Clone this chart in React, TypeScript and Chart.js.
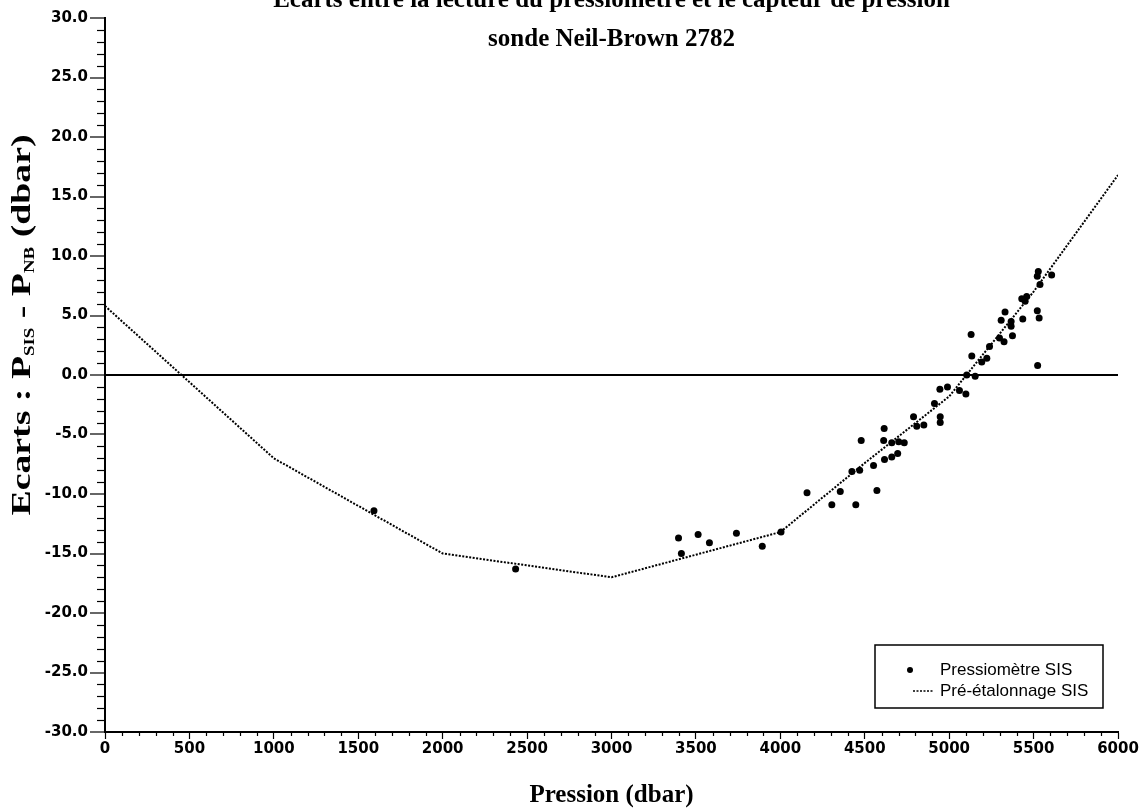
import React, { useEffect, useRef } from 'react';
import { Chart, registerables } from 'chart.js';

Chart.register(...registerables);

// ---- Data ----
const titleLine1 = 'Ecarts entre la lecture du pressiomètre et le capteur de pression';
const titleLine2 = 'sonde Neil-Brown 2782';
const xAxisTitle = 'Pression (dbar)';
const yTitleParts = ['Ecarts : P', 'SIS', ' - P', 'NB', ' (dbar)'];
const legendLabels = ['Pressiomètre SIS', 'Pré-étalonnage SIS'];

const xMin = 0;
const xMax = 6000;
const xStep = 500;
const yMin = -30;
const yMax = 30;
const yStep = 5;

// Pressiomètre SIS measurements
const sisPression = [
  1593, 2432, 3397, 3414, 3513, 3580, 3740, 3893, 4004, 4158,
  4305, 4355, 4447, 4572, 4424, 4470, 4552, 4617, 4660, 4695,
  4479, 4612, 4660, 4701, 4734, 4615, 4789, 4808, 4850, 4913,
  4947, 4947, 4945, 4990, 5061, 5099, 5104, 5154, 5134, 5130,
  5193, 5223, 5239, 5298, 5325, 5375, 5367, 5367, 5308, 5331,
  5436, 5430, 5459, 5450, 5522, 5533, 5538, 5522, 5528, 5607,
  5524,
];
const sisEcart = [
  -11.4, -16.3, -13.7, -15.0, -13.4, -14.1, -13.3, -14.4, -13.2, -9.9,
  -10.9, -9.8, -10.9, -9.7, -8.1, -8.0, -7.6, -7.1, -6.9, -6.6,
  -5.5, -5.5, -5.7, -5.6, -5.7, -4.5, -3.5, -4.3, -4.2, -2.4,
  -3.5, -4.0, -1.2, -1.0, -1.3, -1.6, 0.0, -0.1, 1.6, 3.4,
  1.1, 1.4, 2.4, 3.1, 2.8, 3.3, 4.1, 4.5, 4.6, 5.3,
  4.7, 6.4, 6.6, 6.2, 5.4, 4.8, 7.6, 8.3, 8.7, 8.4,
  0.8,
];

// Pré-étalonnage SIS curve
const preEtalPression = [0, 1000, 2000, 3000, 4000, 4500, 5000, 5500, 6000];
const preEtalEcart = [5.8, -7.0, -15.0, -17.0, -13.2, -7.4, -1.8, 7.0, 16.8];

const SERIF = '"Liberation Serif", "Times New Roman", serif';
const SANS = '"Liberation Sans", Arial, sans-serif';
const TICKFONT = '"DejaVu Sans", sans-serif';

const decorPlugin = {
  id: 'decor',
  afterDraw(chart: any) {
    const ctx = chart.ctx as CanvasRenderingContext2D;
    const xs = chart.scales.x;
    const ys = chart.scales.y;
    const area = chart.chartArea;
    ctx.save();
    ctx.strokeStyle = '#000';
    ctx.fillStyle = '#000';

    // minor ticks
    ctx.lineWidth = 1.2;
    for (let v = yMin; v <= yMax; v += 1) {
      if (v % yStep === 0) continue;
      const py = Math.round(ys.getPixelForValue(v)) + 0.5;
      ctx.beginPath();
      ctx.moveTo(area.left - 8, py);
      ctx.lineTo(area.left, py);
      ctx.stroke();
    }
    for (let v = xMin; v <= xMax; v += 100) {
      if (v % xStep === 0) continue;
      const px = Math.round(xs.getPixelForValue(v)) + 0.5;
      ctx.beginPath();
      ctx.moveTo(px, area.bottom);
      ctx.lineTo(px, area.bottom + 4);
      ctx.stroke();
    }

    // titles
    ctx.textAlign = 'center';
    ctx.textBaseline = 'alphabetic';
    ctx.font = `bold 25px ${SERIF}`;
    const cx = (area.left + area.right) / 2;
    ctx.fillText(titleLine1, cx, 7);
    ctx.fillText(titleLine2, cx, 46);
    ctx.fillText(xAxisTitle, cx, 802);

    // y axis title with subscripts (stretched along its length like the scan)
    const mainFont = `bold 28px ${SERIF}`;
    const subFont = `bold 14px ${SERIF}`;
    const widths = yTitleParts.map((t, i) => {
      ctx.font = i % 2 === 1 ? subFont : mainFont;
      return ctx.measureText(t).width;
    });
    const total = widths.reduce((a, b) => a + b, 0);
    ctx.save();
    ctx.translate(30, 325);
    ctx.rotate(-Math.PI / 2);
    ctx.scale(1.35, 1);
    ctx.textAlign = 'left';
    let pos = -total / 2;
    yTitleParts.forEach((t, i) => {
      const sub = i % 2 === 1;
      ctx.font = sub ? subFont : mainFont;
      ctx.fillText(t, pos, sub ? 4 : 0);
      pos += widths[i];
    });
    ctx.restore();

    // legend box
    const lx = 875, ly = 645, lw = 228, lh = 63;
    ctx.fillStyle = '#fff';
    ctx.fillRect(lx, ly, lw, lh);
    ctx.lineWidth = 1.5;
    ctx.strokeRect(lx, ly, lw, lh);
    ctx.fillStyle = '#000';
    ctx.beginPath();
    ctx.arc(910, 670, 3, 0, Math.PI * 2);
    ctx.fill();
    ctx.setLineDash([2, 1.5]);
    ctx.lineWidth = 1.5;
    ctx.beginPath();
    ctx.moveTo(913, 691);
    ctx.lineTo(933, 691);
    ctx.stroke();
    ctx.setLineDash([]);
    ctx.font = `17px ${SANS}`;
    ctx.textAlign = 'left';
    ctx.textBaseline = 'middle';
    ctx.fillText(legendLabels[0], 940, 670);
    ctx.fillText(legendLabels[1], 940, 691);
    ctx.restore();
  },
};

export default function App() {
  const ref = useRef<HTMLCanvasElement | null>(null);
  useEffect(() => {
    if (!ref.current) return;
    const chart = new Chart(ref.current, {
      type: 'scatter',
      data: {
        datasets: [
          {
            type: 'line',
            label: legendLabels[1],
            data: preEtalPression.map((x, i) => ({ x, y: preEtalEcart[i] })),
            borderColor: '#000',
            borderWidth: 2,
            borderDash: [2, 1.5],
            pointRadius: 0,
            fill: false,
            tension: 0,
          },
          {
            type: 'scatter',
            label: legendLabels[0],
            data: sisPression.map((x, i) => ({ x, y: sisEcart[i] })),
            backgroundColor: '#000',
            borderColor: '#000',
            pointRadius: 3.5,
            borderWidth: 0,
          },
        ],
      },
      plugins: [decorPlugin],
      options: {
        animation: false,
        responsive: false,
        devicePixelRatio: 1,
        layout: { padding: { top: 18, right: 26, bottom: 0, left: 0 } },
        plugins: {
          legend: { display: false },
          title: { display: false },
          tooltip: { enabled: false },
        },
        scales: {
          x: {
            type: 'linear',
            min: xMin,
            max: xMax,
            afterFit: (s: any) => { s.height = 79; },
            ticks: {
              stepSize: xStep,
              autoSkip: false,
              maxRotation: 0,
              padding: 1,
              color: '#000',
              font: { family: TICKFONT, size: 15, weight: 'bold' },
              callback: (v: any) => String(Math.round(Number(v))),
            },
            grid: {
              drawOnChartArea: false,
              drawTicks: true,
              tickLength: 7,
              tickColor: '#000',
              tickWidth: 1.2,
            },
            border: { display: true, color: '#000', width: 2 },
          },
          y: {
            type: 'linear',
            min: yMin,
            max: yMax,
            afterFit: (s: any) => { s.width = 105; },
            ticks: {
              stepSize: yStep,
              autoSkip: false,
              padding: 2,
              color: '#000',
              font: { family: TICKFONT, size: 15, weight: 'bold' },
              callback: (v: any) => Number(v).toFixed(1),
            },
            grid: {
              drawOnChartArea: true,
              drawTicks: true,
              tickLength: 15,
              tickColor: '#000',
              tickWidth: 1.2,
              lineWidth: 2,
              color: (c: any) => (c.tick && c.tick.value === 0 ? '#000' : 'rgba(0,0,0,0)'),
            },
            border: { display: true, color: '#000', width: 2 },
          },
        },
      },
    });
    return () => chart.destroy();
  }, []);
  return (
    <div style={{ position: 'absolute', left: 0, top: 0, width: 1144, height: 811, background: '#fff' }}>
      <canvas ref={ref} width={1144} height={811} style={{ display: 'block' }} />
    </div>
  );
}
